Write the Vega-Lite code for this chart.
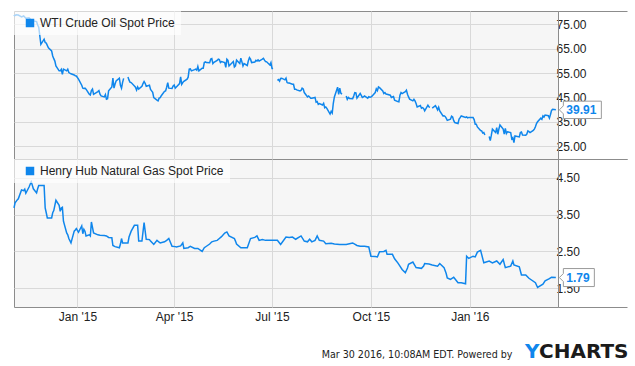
{
  "$schema": "https://vega.github.io/schema/vega-lite/v6.json",
  "background": "white",
  "padding": {"left": 10, "top": 10, "right": 0, "bottom": 0},
  "spacing": 0,
  "bounds": "flush",
  "config": {
    "font": "Liberation Sans",
    "view": {"fill": "#f6f6f6", "stroke": "#8c8c8c", "strokeWidth": 1},
    "legend": {
      "orient": "top-left", "offset": 0, "padding": 6, "fillColor": "rgba(255,255,255,0.65)",
      "symbolType": "square", "symbolSize": 72, "symbolOffset": 4, "symbolStrokeWidth": 0,
      "symbolFillColor": "#0f86ec", "labelOffset": 4, "labelFontSize": 12, "labelColor": "#222222",
      "labelLimit": 400, "labelFont": "Liberation Sans"
    }
  },
  "resolve": {"scale": {"color": "independent", "y": "independent"}, "legend": {"color": "independent"}},
  "datasets": {
    "oil": [
      {"date": "2014-11-03", "price": 78.4}, {"date": "2014-11-05", "price": 78.9}, {"date": "2014-11-07", "price": 78.8},
      {"date": "2014-11-10", "price": 78.0}, {"date": "2014-11-12", "price": 78.4}, {"date": "2014-11-14", "price": 77.5},
      {"date": "2014-11-17", "price": 77.7}, {"date": "2014-11-19", "price": 76.8}, {"date": "2014-11-21", "price": 76.4},
      {"date": "2014-11-24", "price": 76.1}, {"date": "2014-11-25", "price": 74.7}, {"date": "2014-11-26", "price": 73.8},
      {"date": "2014-11-28", "price": 66.8}, {"date": "2014-12-01", "price": 68.9}, {"date": "2014-12-02", "price": 67.5},
      {"date": "2014-12-03", "price": 67.3}, {"date": "2014-12-05", "price": 65.4}, {"date": "2014-12-08", "price": 64.1},
      {"date": "2014-12-09", "price": 62.0}, {"date": "2014-12-10", "price": 60.9}, {"date": "2014-12-11", "price": 59.9},
      {"date": "2014-12-12", "price": 57.9}, {"date": "2014-12-15", "price": 55.9}, {"date": "2014-12-16", "price": 55.9},
      {"date": "2014-12-17", "price": 56.5}, {"date": "2014-12-18", "price": 54.5}, {"date": "2014-12-19", "price": 56.6},
      {"date": "2014-12-22", "price": 55.9}, {"date": "2014-12-23", "price": 56.6}, {"date": "2014-12-24", "price": 55.2},
      {"date": "2014-12-26", "price": 54.7}, {"date": "2014-12-29", "price": 54.2}, {"date": "2014-12-30", "price": 53.9},
      {"date": "2014-12-31", "price": 53.8}, {"date": "2015-01-02", "price": 52.5}, {"date": "2015-01-05", "price": 50.0},
      {"date": "2015-01-06", "price": 48.8}, {"date": "2015-01-07", "price": 48.7}, {"date": "2015-01-08", "price": 48.8},
      {"date": "2015-01-09", "price": 48.4}, {"date": "2015-01-12", "price": 46.3}, {"date": "2015-01-13", "price": 46.0},
      {"date": "2015-01-14", "price": 47.8}, {"date": "2015-01-15", "price": 48.4}, {"date": "2015-01-16", "price": 46.3},
      {"date": "2015-01-20", "price": 47.4}, {"date": "2015-01-21", "price": 47.8}, {"date": "2015-01-22", "price": 46.3},
      {"date": "2015-01-23", "price": 45.6}, {"date": "2015-01-26", "price": 45.2}, {"date": "2015-01-27", "price": 46.2},
      {"date": "2015-01-28", "price": 44.3}, {"date": "2015-01-29", "price": 44.5}, {"date": "2015-01-30", "price": 47.7},
      {"date": "2015-02-02", "price": 49.3}, {"date": "2015-02-03", "price": 52.9}, {"date": "2015-02-04", "price": 48.8},
      {"date": "2015-02-05", "price": 50.5}, {"date": "2015-02-06", "price": 51.8}, {"date": "2015-02-09", "price": 52.9},
      {"date": "2015-02-10", "price": 50.0}, {"date": "2015-02-11", "price": 48.8}, {"date": "2015-02-12", "price": 51.2},
      {"date": "2015-02-13", "price": 52.8}, {"date": "2015-02-16", "price": null}, {"date": "2015-02-17", "price": 53.4},
      {"date": "2015-02-18", "price": 52.1}, {"date": "2015-02-19", "price": 51.2}, {"date": "2015-02-20", "price": 51.1},
      {"date": "2015-02-23", "price": 49.7}, {"date": "2015-02-24", "price": 49.2}, {"date": "2015-02-25", "price": 48.0},
      {"date": "2015-02-26", "price": 49.3}, {"date": "2015-02-27", "price": 48.4}, {"date": "2015-03-02", "price": 49.6},
      {"date": "2015-03-03", "price": 50.7}, {"date": "2015-03-04", "price": 51.5}, {"date": "2015-03-05", "price": 50.8},
      {"date": "2015-03-06", "price": 49.6}, {"date": "2015-03-09", "price": 50.0}, {"date": "2015-03-10", "price": 48.3},
      {"date": "2015-03-11", "price": 47.7}, {"date": "2015-03-12", "price": 47.1}, {"date": "2015-03-13", "price": 44.9},
      {"date": "2015-03-16", "price": 43.9}, {"date": "2015-03-17", "price": 43.6}, {"date": "2015-03-18", "price": 44.7},
      {"date": "2015-03-19", "price": 44.9}, {"date": "2015-03-20", "price": 45.7}, {"date": "2015-03-23", "price": 47.5},
      {"date": "2015-03-24", "price": 47.7}, {"date": "2015-03-25", "price": 49.2}, {"date": "2015-03-26", "price": 51.1},
      {"date": "2015-03-27", "price": 48.8}, {"date": "2015-03-30", "price": 48.7}, {"date": "2015-03-31", "price": 49.7},
      {"date": "2015-04-01", "price": 50.1}, {"date": "2015-04-02", "price": 48.8}, {"date": "2015-04-06", "price": 50.7},
      {"date": "2015-04-07", "price": 53.4}, {"date": "2015-04-08", "price": 50.4}, {"date": "2015-04-09", "price": 51.1},
      {"date": "2015-04-10", "price": 51.6}, {"date": "2015-04-13", "price": 52.5}, {"date": "2015-04-14", "price": 53.3},
      {"date": "2015-04-15", "price": 56.6}, {"date": "2015-04-16", "price": 56.7}, {"date": "2015-04-17", "price": 55.9},
      {"date": "2015-04-20", "price": 56.4}, {"date": "2015-04-21", "price": 56.6}, {"date": "2015-04-22", "price": 56.2},
      {"date": "2015-04-23", "price": 57.7}, {"date": "2015-04-24", "price": 55.9}, {"date": "2015-04-27", "price": 57.0},
      {"date": "2015-04-28", "price": 57.0}, {"date": "2015-04-29", "price": 59.3}, {"date": "2015-04-30", "price": 59.6},
      {"date": "2015-05-01", "price": 59.3}, {"date": "2015-05-04", "price": 59.2}, {"date": "2015-05-05", "price": 60.7},
      {"date": "2015-05-06", "price": 60.9}, {"date": "2015-05-07", "price": 58.9}, {"date": "2015-05-08", "price": 59.4},
      {"date": "2015-05-11", "price": 60.2}, {"date": "2015-05-12", "price": 60.7}, {"date": "2015-05-13", "price": 60.5},
      {"date": "2015-05-14", "price": 59.3}, {"date": "2015-05-15", "price": 59.7}, {"date": "2015-05-18", "price": 59.3},
      {"date": "2015-05-19", "price": 57.3}, {"date": "2015-05-20", "price": 60.7}, {"date": "2015-05-21", "price": 60.2},
      {"date": "2015-05-22", "price": 57.9}, {"date": "2015-05-26", "price": 59.7}, {"date": "2015-05-27", "price": 57.5},
      {"date": "2015-05-28", "price": 57.9}, {"date": "2015-05-29", "price": 60.3}, {"date": "2015-06-01", "price": 58.9},
      {"date": "2015-06-02", "price": 61.1}, {"date": "2015-06-03", "price": 59.6}, {"date": "2015-06-04", "price": 57.9},
      {"date": "2015-06-05", "price": 58.9}, {"date": "2015-06-08", "price": 58.1}, {"date": "2015-06-09", "price": 60.1},
      {"date": "2015-06-10", "price": 61.3}, {"date": "2015-06-11", "price": 60.7}, {"date": "2015-06-12", "price": 59.3},
      {"date": "2015-06-15", "price": 59.5}, {"date": "2015-06-16", "price": 60.2}, {"date": "2015-06-17", "price": 59.9},
      {"date": "2015-06-18", "price": 60.4}, {"date": "2015-06-19", "price": 59.9}, {"date": "2015-06-22", "price": 60.7},
      {"date": "2015-06-23", "price": 61.0}, {"date": "2015-06-24", "price": 60.3}, {"date": "2015-06-25", "price": 59.7},
      {"date": "2015-06-26", "price": 59.6}, {"date": "2015-06-29", "price": 58.3}, {"date": "2015-06-30", "price": 59.3},
      {"date": "2015-07-01", "price": 56.9}, {"date": "2015-07-02", "price": 56.9}, {"date": "2015-07-03", "price": null},
      {"date": "2015-07-06", "price": 52.0}, {"date": "2015-07-07", "price": 52.3}, {"date": "2015-07-08", "price": 51.7},
      {"date": "2015-07-09", "price": 52.8}, {"date": "2015-07-10", "price": 52.9}, {"date": "2015-07-13", "price": 52.2},
      {"date": "2015-07-14", "price": 52.9}, {"date": "2015-07-15", "price": 51.1}, {"date": "2015-07-16", "price": 50.9},
      {"date": "2015-07-17", "price": 50.9}, {"date": "2015-07-20", "price": 50.4}, {"date": "2015-07-21", "price": 50.4},
      {"date": "2015-07-22", "price": 48.4}, {"date": "2015-07-23", "price": 48.4}, {"date": "2015-07-24", "price": 48.1},
      {"date": "2015-07-27", "price": 47.7}, {"date": "2015-07-28", "price": 47.9}, {"date": "2015-07-29", "price": 48.8},
      {"date": "2015-07-30", "price": 48.5}, {"date": "2015-07-31", "price": 47.0}, {"date": "2015-08-03", "price": 45.2},
      {"date": "2015-08-04", "price": 45.6}, {"date": "2015-08-05", "price": 45.2}, {"date": "2015-08-06", "price": 44.7},
      {"date": "2015-08-07", "price": 44.7}, {"date": "2015-08-10", "price": 45.0}, {"date": "2015-08-11", "price": 43.1},
      {"date": "2015-08-12", "price": 43.3}, {"date": "2015-08-13", "price": 42.2}, {"date": "2015-08-14", "price": 42.5},
      {"date": "2015-08-17", "price": 41.9}, {"date": "2015-08-18", "price": 42.6}, {"date": "2015-08-19", "price": 40.8},
      {"date": "2015-08-20", "price": 41.1}, {"date": "2015-08-21", "price": 40.5}, {"date": "2015-08-24", "price": 38.2},
      {"date": "2015-08-25", "price": 39.3}, {"date": "2015-08-26", "price": 38.6}, {"date": "2015-08-27", "price": 42.6},
      {"date": "2015-08-28", "price": 45.2}, {"date": "2015-08-31", "price": 49.2}, {"date": "2015-09-01", "price": 46.3},
      {"date": "2015-09-02", "price": 48.8}, {"date": "2015-09-03", "price": 46.8}, {"date": "2015-09-04", "price": 46.3},
      {"date": "2015-09-07", "price": null}, {"date": "2015-09-08", "price": 45.6}, {"date": "2015-09-09", "price": 44.2},
      {"date": "2015-09-10", "price": 45.0}, {"date": "2015-09-11", "price": 44.6}, {"date": "2015-09-14", "price": 44.5},
      {"date": "2015-09-15", "price": 45.6}, {"date": "2015-09-16", "price": 47.0}, {"date": "2015-09-17", "price": 46.9},
      {"date": "2015-09-18", "price": 44.7}, {"date": "2015-09-21", "price": 46.6}, {"date": "2015-09-22", "price": 45.8},
      {"date": "2015-09-23", "price": 45.0}, {"date": "2015-09-24", "price": 45.2}, {"date": "2015-09-25", "price": 45.6},
      {"date": "2015-09-28", "price": 44.7}, {"date": "2015-09-29", "price": 45.3}, {"date": "2015-09-30", "price": 45.1},
      {"date": "2015-10-01", "price": 45.2}, {"date": "2015-10-02", "price": 45.5}, {"date": "2015-10-05", "price": 47.0},
      {"date": "2015-10-06", "price": 48.5}, {"date": "2015-10-07", "price": 47.8}, {"date": "2015-10-08", "price": 49.3},
      {"date": "2015-10-09", "price": 49.0}, {"date": "2015-10-12", "price": 47.7}, {"date": "2015-10-13", "price": 46.6},
      {"date": "2015-10-14", "price": 47.0}, {"date": "2015-10-15", "price": 46.4}, {"date": "2015-10-16", "price": 46.3},
      {"date": "2015-10-19", "price": 45.9}, {"date": "2015-10-20", "price": 45.0}, {"date": "2015-10-21", "price": 45.2},
      {"date": "2015-10-22", "price": 45.4}, {"date": "2015-10-23", "price": 43.9}, {"date": "2015-10-26", "price": 43.3},
      {"date": "2015-10-27", "price": 43.2}, {"date": "2015-10-28", "price": 45.9}, {"date": "2015-10-29", "price": 47.0},
      {"date": "2015-10-30", "price": 46.6}, {"date": "2015-11-02", "price": 47.4}, {"date": "2015-11-03", "price": 48.0},
      {"date": "2015-11-04", "price": 46.3}, {"date": "2015-11-05", "price": 45.2}, {"date": "2015-11-06", "price": 44.3},
      {"date": "2015-11-09", "price": 43.6}, {"date": "2015-11-10", "price": 44.2}, {"date": "2015-11-11", "price": 43.6},
      {"date": "2015-11-12", "price": 42.5}, {"date": "2015-11-13", "price": 41.1}, {"date": "2015-11-16", "price": 41.7},
      {"date": "2015-11-17", "price": 40.6}, {"date": "2015-11-18", "price": 40.8}, {"date": "2015-11-19", "price": 40.5},
      {"date": "2015-11-20", "price": 39.5}, {"date": "2015-11-23", "price": 41.8}, {"date": "2015-11-24", "price": 41.1},
      {"date": "2015-11-25", "price": 41.0}, {"date": "2015-11-26", "price": null}, {"date": "2015-11-27", "price": 40.6},
      {"date": "2015-11-30", "price": 41.6}, {"date": "2015-12-01", "price": 40.8}, {"date": "2015-12-02", "price": 39.9},
      {"date": "2015-12-03", "price": 41.0}, {"date": "2015-12-04", "price": 39.5}, {"date": "2015-12-07", "price": 37.4},
      {"date": "2015-12-08", "price": 37.5}, {"date": "2015-12-09", "price": 37.2}, {"date": "2015-12-10", "price": 36.5},
      {"date": "2015-12-11", "price": 35.6}, {"date": "2015-12-14", "price": 36.1}, {"date": "2015-12-15", "price": 37.3},
      {"date": "2015-12-16", "price": 37.0}, {"date": "2015-12-17", "price": 35.5}, {"date": "2015-12-18", "price": 34.7},
      {"date": "2015-12-21", "price": 34.3}, {"date": "2015-12-22", "price": 36.1}, {"date": "2015-12-23", "price": 36.7},
      {"date": "2015-12-24", "price": 37.4}, {"date": "2015-12-28", "price": 36.8}, {"date": "2015-12-29", "price": 37.0},
      {"date": "2015-12-30", "price": 36.6}, {"date": "2015-12-31", "price": 36.8}, {"date": "2016-01-04", "price": 36.8},
      {"date": "2016-01-05", "price": 35.9}, {"date": "2016-01-06", "price": 34.0}, {"date": "2016-01-07", "price": 34.0},
      {"date": "2016-01-08", "price": 32.9}, {"date": "2016-01-11", "price": 31.4}, {"date": "2016-01-12", "price": 31.3},
      {"date": "2016-01-13", "price": 30.4}, {"date": "2016-01-14", "price": 30.6}, {"date": "2016-01-15", "price": 29.6},
      {"date": "2016-01-18", "price": null}, {"date": "2016-01-19", "price": 29.0}, {"date": "2016-01-20", "price": 27.3},
      {"date": "2016-01-21", "price": 29.5}, {"date": "2016-01-22", "price": 32.0}, {"date": "2016-01-25", "price": 30.6},
      {"date": "2016-01-26", "price": 32.6}, {"date": "2016-01-27", "price": 29.9}, {"date": "2016-01-28", "price": 32.0},
      {"date": "2016-01-29", "price": 33.7}, {"date": "2016-02-01", "price": 32.0}, {"date": "2016-02-02", "price": 30.0},
      {"date": "2016-02-03", "price": 32.3}, {"date": "2016-02-04", "price": 30.2}, {"date": "2016-02-05", "price": 30.9},
      {"date": "2016-02-08", "price": 30.6}, {"date": "2016-02-09", "price": 28.0}, {"date": "2016-02-10", "price": 28.5},
      {"date": "2016-02-11", "price": 26.5}, {"date": "2016-02-12", "price": 29.2}, {"date": "2016-02-16", "price": 28.8},
      {"date": "2016-02-17", "price": 30.6}, {"date": "2016-02-18", "price": 30.8}, {"date": "2016-02-19", "price": 29.6},
      {"date": "2016-02-22", "price": 29.5}, {"date": "2016-02-23", "price": 30.0}, {"date": "2016-02-24", "price": 31.3},
      {"date": "2016-02-25", "price": 31.0}, {"date": "2016-02-26", "price": 30.6}, {"date": "2016-02-29", "price": 31.5},
      {"date": "2016-03-01", "price": 32.0}, {"date": "2016-03-02", "price": 33.0}, {"date": "2016-03-03", "price": 34.3},
      {"date": "2016-03-04", "price": 35.0}, {"date": "2016-03-07", "price": 36.5}, {"date": "2016-03-08", "price": 36.0},
      {"date": "2016-03-09", "price": 37.4}, {"date": "2016-03-10", "price": 37.0}, {"date": "2016-03-11", "price": 37.8},
      {"date": "2016-03-14", "price": 37.5}, {"date": "2016-03-15", "price": 36.5}, {"date": "2016-03-16", "price": 38.0},
      {"date": "2016-03-17", "price": 39.7}, {"date": "2016-03-18", "price": 40.1}, {"date": "2016-03-21", "price": 39.91}
    ],
    "gas": [
      {"date": "2014-11-03", "price": 3.68}, {"date": "2014-11-04", "price": 3.82}, {"date": "2014-11-06", "price": 3.90},
      {"date": "2014-11-07", "price": 3.93}, {"date": "2014-11-10", "price": 4.17}, {"date": "2014-11-12", "price": 4.15},
      {"date": "2014-11-13", "price": 4.19}, {"date": "2014-11-14", "price": 4.08}, {"date": "2014-11-17", "price": 4.25},
      {"date": "2014-11-19", "price": 4.39}, {"date": "2014-11-20", "price": 4.30}, {"date": "2014-11-21", "price": 4.20},
      {"date": "2014-11-24", "price": 4.09}, {"date": "2014-11-25", "price": 4.20}, {"date": "2014-11-26", "price": 4.29},
      {"date": "2014-11-28", "price": 4.29}, {"date": "2014-12-01", "price": 4.29}, {"date": "2014-12-02", "price": 3.68},
      {"date": "2014-12-03", "price": 3.55}, {"date": "2014-12-04", "price": 3.41}, {"date": "2014-12-05", "price": 3.41},
      {"date": "2014-12-08", "price": 3.41}, {"date": "2014-12-09", "price": 3.55}, {"date": "2014-12-10", "price": 3.61},
      {"date": "2014-12-11", "price": 3.75}, {"date": "2014-12-12", "price": 3.89}, {"date": "2014-12-15", "price": 3.75},
      {"date": "2014-12-16", "price": 3.59}, {"date": "2014-12-17", "price": 3.68}, {"date": "2014-12-18", "price": 3.70},
      {"date": "2014-12-19", "price": 3.32}, {"date": "2014-12-22", "price": 3.00}, {"date": "2014-12-23", "price": 2.95},
      {"date": "2014-12-24", "price": 2.85}, {"date": "2014-12-26", "price": 2.73}, {"date": "2014-12-29", "price": 3.05},
      {"date": "2014-12-30", "price": 3.08}, {"date": "2014-12-31", "price": 3.12}, {"date": "2015-01-02", "price": 3.02},
      {"date": "2015-01-05", "price": 3.19}, {"date": "2015-01-06", "price": 2.98}, {"date": "2015-01-07", "price": 3.10},
      {"date": "2015-01-08", "price": 3.05}, {"date": "2015-01-09", "price": 2.92}, {"date": "2015-01-12", "price": 2.95},
      {"date": "2015-01-13", "price": 2.92}, {"date": "2015-01-14", "price": 3.30}, {"date": "2015-01-15", "price": 3.15},
      {"date": "2015-01-16", "price": 3.00}, {"date": "2015-01-20", "price": 2.95}, {"date": "2015-01-22", "price": 2.94},
      {"date": "2015-01-26", "price": 2.93}, {"date": "2015-01-28", "price": 2.92}, {"date": "2015-01-30", "price": 2.88},
      {"date": "2015-02-02", "price": 2.87}, {"date": "2015-02-03", "price": 2.66}, {"date": "2015-02-05", "price": 2.63},
      {"date": "2015-02-09", "price": 2.60}, {"date": "2015-02-10", "price": 2.70}, {"date": "2015-02-11", "price": 2.85},
      {"date": "2015-02-12", "price": 2.73}, {"date": "2015-02-17", "price": 2.73}, {"date": "2015-02-18", "price": 2.89},
      {"date": "2015-02-20", "price": 3.05}, {"date": "2015-02-23", "price": 3.21}, {"date": "2015-02-26", "price": 3.21},
      {"date": "2015-02-27", "price": 2.78}, {"date": "2015-03-02", "price": 2.78}, {"date": "2015-03-04", "price": 3.28},
      {"date": "2015-03-06", "price": 2.83}, {"date": "2015-03-09", "price": 2.82}, {"date": "2015-03-10", "price": 2.78},
      {"date": "2015-03-12", "price": 2.72}, {"date": "2015-03-13", "price": 2.69}, {"date": "2015-03-16", "price": 2.80},
      {"date": "2015-03-18", "price": 2.75}, {"date": "2015-03-19", "price": 2.73}, {"date": "2015-03-23", "price": 2.76},
      {"date": "2015-03-25", "price": 2.80}, {"date": "2015-03-27", "price": 2.85}, {"date": "2015-03-30", "price": 2.64},
      {"date": "2015-04-02", "price": 2.63}, {"date": "2015-04-03", "price": 2.62}, {"date": "2015-04-07", "price": 2.65},
      {"date": "2015-04-09", "price": 2.73}, {"date": "2015-04-10", "price": 2.58}, {"date": "2015-04-14", "price": 2.60},
      {"date": "2015-04-16", "price": 2.64}, {"date": "2015-04-20", "price": 2.58}, {"date": "2015-04-23", "price": 2.58},
      {"date": "2015-04-27", "price": 2.50}, {"date": "2015-04-29", "price": 2.60}, {"date": "2015-05-01", "price": 2.64},
      {"date": "2015-05-04", "price": 2.70}, {"date": "2015-05-06", "price": 2.76}, {"date": "2015-05-08", "price": 2.78},
      {"date": "2015-05-11", "price": 2.80}, {"date": "2015-05-13", "price": 2.85}, {"date": "2015-05-15", "price": 2.90},
      {"date": "2015-05-18", "price": 3.00}, {"date": "2015-05-20", "price": 3.03}, {"date": "2015-05-22", "price": 2.92},
      {"date": "2015-05-27", "price": 2.85}, {"date": "2015-05-28", "price": 2.78}, {"date": "2015-05-29", "price": 2.70},
      {"date": "2015-06-02", "price": 2.60}, {"date": "2015-06-05", "price": 2.60}, {"date": "2015-06-08", "price": 2.60},
      {"date": "2015-06-11", "price": 2.85}, {"date": "2015-06-15", "price": 2.88}, {"date": "2015-06-17", "price": 2.92},
      {"date": "2015-06-19", "price": 2.80}, {"date": "2015-06-22", "price": 2.82}, {"date": "2015-06-25", "price": 2.80},
      {"date": "2015-06-30", "price": 2.80}, {"date": "2015-07-06", "price": 2.80}, {"date": "2015-07-09", "price": 2.69},
      {"date": "2015-07-14", "price": 2.89}, {"date": "2015-07-17", "price": 2.88}, {"date": "2015-07-20", "price": 2.89},
      {"date": "2015-07-23", "price": 2.83}, {"date": "2015-07-28", "price": 2.92}, {"date": "2015-07-31", "price": 2.78},
      {"date": "2015-08-03", "price": 2.76}, {"date": "2015-08-05", "price": 2.83}, {"date": "2015-08-07", "price": 2.76},
      {"date": "2015-08-10", "price": 2.80}, {"date": "2015-08-12", "price": 2.92}, {"date": "2015-08-14", "price": 2.80},
      {"date": "2015-08-18", "price": 2.78}, {"date": "2015-08-20", "price": 2.71}, {"date": "2015-08-25", "price": 2.72},
      {"date": "2015-08-28", "price": 2.70}, {"date": "2015-09-02", "price": 2.69}, {"date": "2015-09-08", "price": 2.69},
      {"date": "2015-09-11", "price": 2.71}, {"date": "2015-09-14", "price": 2.73}, {"date": "2015-09-18", "price": 2.66},
      {"date": "2015-09-21", "price": 2.64}, {"date": "2015-09-25", "price": 2.64}, {"date": "2015-09-29", "price": 2.62},
      {"date": "2015-10-01", "price": 2.37}, {"date": "2015-10-05", "price": 2.36}, {"date": "2015-10-07", "price": 2.35},
      {"date": "2015-10-09", "price": 2.49}, {"date": "2015-10-13", "price": 2.50}, {"date": "2015-10-15", "price": 2.53},
      {"date": "2015-10-16", "price": 2.42}, {"date": "2015-10-21", "price": 2.42}, {"date": "2015-10-23", "price": 2.30},
      {"date": "2015-10-26", "price": 2.19}, {"date": "2015-10-28", "price": 2.10}, {"date": "2015-10-30", "price": 2.01},
      {"date": "2015-11-02", "price": 1.92}, {"date": "2015-11-04", "price": 2.05}, {"date": "2015-11-05", "price": 2.15},
      {"date": "2015-11-09", "price": 2.21}, {"date": "2015-11-12", "price": 2.06}, {"date": "2015-11-17", "price": 2.04},
      {"date": "2015-11-19", "price": 2.10}, {"date": "2015-11-20", "price": 2.17}, {"date": "2015-11-24", "price": 2.16},
      {"date": "2015-11-27", "price": 2.13}, {"date": "2015-12-02", "price": 2.10}, {"date": "2015-12-04", "price": 2.17},
      {"date": "2015-12-08", "price": 2.06}, {"date": "2015-12-10", "price": 1.90}, {"date": "2015-12-11", "price": 1.78},
      {"date": "2015-12-14", "price": 1.74}, {"date": "2015-12-17", "price": 1.80}, {"date": "2015-12-21", "price": 1.65},
      {"date": "2015-12-24", "price": 1.65}, {"date": "2015-12-28", "price": 1.62}, {"date": "2015-12-29", "price": 2.37},
      {"date": "2015-12-31", "price": 2.31}, {"date": "2016-01-04", "price": 2.37}, {"date": "2016-01-06", "price": 2.35},
      {"date": "2016-01-08", "price": 2.48}, {"date": "2016-01-11", "price": 2.53}, {"date": "2016-01-14", "price": 2.19},
      {"date": "2016-01-19", "price": 2.24}, {"date": "2016-01-22", "price": 2.19}, {"date": "2016-01-26", "price": 2.24},
      {"date": "2016-01-29", "price": 2.15}, {"date": "2016-02-01", "price": 2.28}, {"date": "2016-02-03", "price": 2.06},
      {"date": "2016-02-08", "price": 2.10}, {"date": "2016-02-10", "price": 2.24}, {"date": "2016-02-11", "price": 2.13},
      {"date": "2016-02-16", "price": 2.08}, {"date": "2016-02-18", "price": 1.86}, {"date": "2016-02-22", "price": 1.86},
      {"date": "2016-02-25", "price": 1.77}, {"date": "2016-03-02", "price": 1.65}, {"date": "2016-03-04", "price": 1.52},
      {"date": "2016-03-09", "price": 1.61}, {"date": "2016-03-11", "price": 1.70}, {"date": "2016-03-15", "price": 1.76},
      {"date": "2016-03-17", "price": 1.80}, {"date": "2016-03-21", "price": 1.79}
    ],
    "oilLast": [{"date": "2016-03-21", "price": 39.91}],
    "gasLast": [{"date": "2016-03-21", "price": 1.79}]
  },
  "vconcat": [
    {
      "width": 544,
      "height": 148,
      "encoding": {
        "x": {
          "field": "date", "type": "temporal",
          "scale": {"domain": [{"year": 2014, "month": 11, "date": 3}, {"year": 2016, "month": 3, "date": 23}]},
          "axis": {
            "values": [{"year": 2015, "month": 1, "date": 1}, {"year": 2015, "month": 4, "date": 1}, {"year": 2015, "month": 7, "date": 1}, {"year": 2015, "month": 10, "date": 1}, {"year": 2016, "month": 1, "date": 1}],
            "grid": true, "gridColor": "#d9d9d9", "labels": false, "ticks": false, "domain": false,
            "title": "Y", "titleX": 510.5, "titleY": 198.7, "titleAlign": "left", "titleAnchor": null, "titleBaseline": "alphabetic",
            "titleFont": "DejaVu Sans", "titleFontSize": 20, "titleFontWeight": "bold", "titleColor": "#0f86ec"
          }
        },
        "y": {
          "field": "price", "type": "quantitative",
          "scale": {"domain": [19.75, 80.45], "nice": false, "zero": false},
          "axis": {
            "orient": "right", "title": null,
            "values": [19.75, 25, 35, 45, 55, 65, 75, 80.45],
            "labelExpr": "datum.value < 20 || datum.value > 80 ? '' : format(datum.value, '.2f')",
            "labelFontSize": 12, "labelColor": "#222222", "labelPadding": -71,
            "ticks": true, "tickSize": 69, "tickColor": "#8c8c8c",
            "tickOpacity": {"condition": {"test": "datum.value < 20 || datum.value > 80", "value": 1}, "value": 0},
            "grid": true, "gridColor": "#d9d9d9",
            "gridOpacity": {"condition": {"test": "datum.value < 20 || datum.value > 80", "value": 0}, "value": 1},
            "domain": true, "domainColor": "#8c8c8c"
          }
        }
      },
      "layer": [
        {
          "data": {"name": "oil"},
          "mark": {"type": "line", "strokeWidth": 1.5, "invalid": "break-paths-filter-domains"},
          "encoding": {
            "color": {
              "datum": "WTI Crude Oil Spot Price", "type": "nominal",
              "scale": {"range": ["#0f86ec"]},
              "legend": {"title": null, "encode": {"symbols": {"update": {"fill": {"value": "#0f86ec"}, "stroke": {"value": "transparent"}, "strokeWidth": {"value": 0}}}}}
            }
          }
        },
        {
          "data": {"name": "oilLast"},
          "mark": {"type": "point", "shape": "M0.35,0L0.75,-0.4L0.75,-0.87L4.55,-0.87L4.55,0.87L0.75,0.87L0.75,0.4Z", "size": 400, "filled": true, "fill": "white", "stroke": "#9a9a9a", "strokeWidth": 1, "opacity": 1}
        },
        {
          "data": {"name": "oilLast"},
          "mark": {"type": "text", "dx": 10.5, "align": "left", "baseline": "middle", "fontWeight": "bold", "fontSize": 12, "font": "Liberation Sans", "color": "#0f86ec"},
          "encoding": {"text": {"field": "price", "type": "quantitative", "format": ".2f"}}
        }
      ]
    },
    {
      "width": 544,
      "height": 148,
      "encoding": {
        "x": {
          "field": "date", "type": "temporal",
          "scale": {"domain": [{"year": 2014, "month": 11, "date": 3}, {"year": 2016, "month": 3, "date": 23}]},
          "axis": {
            "values": [{"year": 2015, "month": 1, "date": 1}, {"year": 2015, "month": 4, "date": 1}, {"year": 2015, "month": 7, "date": 1}, {"year": 2015, "month": 10, "date": 1}, {"year": 2016, "month": 1, "date": 1}],
            "format": "%b '%y", "labelFlush": false, "labelFontSize": 12, "labelColor": "#222222", "labelPadding": 4,
            "grid": true, "gridColor": "#d9d9d9", "ticks": false, "domain": false,
            "title": "CHARTS", "titleX": 614, "titleY": 50.5, "titleAlign": "right", "titleAnchor": null, "titleBaseline": "alphabetic",
            "titleFont": "DejaVu Sans", "titleFontSize": 20, "titleFontWeight": "bold", "titleColor": "#1b1b1b"
          }
        },
        "y": {
          "field": "price", "type": "quantitative",
          "scale": {"domain": [0.99, 5.01], "nice": false, "zero": false},
          "axis": {
            "orient": "right",
            "values": [0.99, 1.5, 2.5, 3.5, 4.5, 5.01],
            "labelExpr": "datum.value < 1 || datum.value > 5 ? '' : format(datum.value, '.2f')",
            "labelFontSize": 12, "labelColor": "#222222", "labelPadding": -71,
            "ticks": true, "tickSize": 69, "tickColor": "#8c8c8c",
            "tickOpacity": {"condition": {"test": "datum.value < 1 || datum.value > 5", "value": 1}, "value": 0},
            "grid": true, "gridColor": "#d9d9d9",
            "gridOpacity": {"condition": {"test": "datum.value < 1 || datum.value > 5", "value": 0}, "value": 1},
            "domain": true, "domainColor": "#8c8c8c",
            "title": "Mar 30 2016, 10:08AM EDT.  Powered by", "titleAngle": 0, "titleX": -46, "titleY": 198.5,
            "titleAlign": "right", "titleAnchor": null, "titleBaseline": "alphabetic",
            "titleFont": "Liberation Sans Narrow, DejaVu Sans Condensed, Liberation Sans", "titleFontSize": 10.6, "titleFontWeight": "normal", "titleColor": "#222222"
          }
        }
      },
      "layer": [
        {
          "data": {"name": "gas"},
          "mark": {"type": "line", "strokeWidth": 1.5, "invalid": "break-paths-filter-domains"},
          "encoding": {
            "color": {
              "datum": "Henry Hub Natural Gas Spot Price", "type": "nominal",
              "scale": {"range": ["#0f86ec"]},
              "legend": {"title": null, "encode": {"symbols": {"update": {"fill": {"value": "#0f86ec"}, "stroke": {"value": "transparent"}, "strokeWidth": {"value": 0}}}}}
            }
          }
        },
        {
          "data": {"name": "gasLast"},
          "mark": {"type": "point", "shape": "M0.35,0L0.75,-0.4L0.75,-0.9L3.85,-0.9L3.85,0.9L0.75,0.9L0.75,0.4Z", "size": 400, "filled": true, "fill": "white", "stroke": "#9a9a9a", "strokeWidth": 1, "opacity": 1}
        },
        {
          "data": {"name": "gasLast"},
          "mark": {"type": "text", "dx": 10.5, "align": "left", "baseline": "middle", "fontWeight": "bold", "fontSize": 12, "font": "Liberation Sans", "color": "#0f86ec"},
          "encoding": {"text": {"field": "price", "type": "quantitative", "format": ".2f"}}
        }
      ]
    }
  ]
}
